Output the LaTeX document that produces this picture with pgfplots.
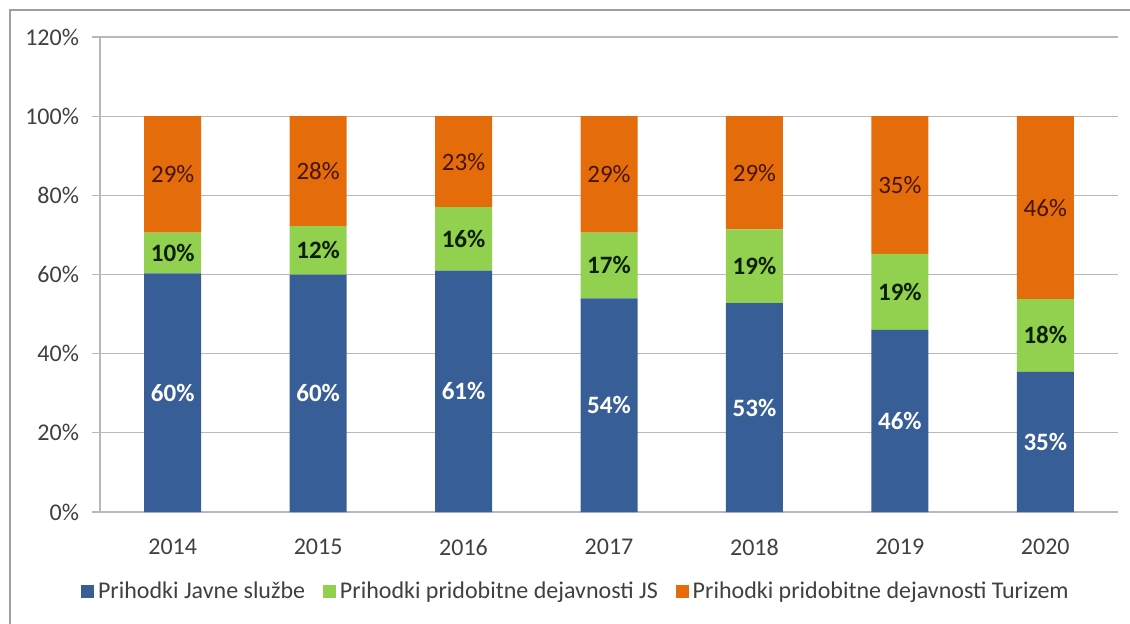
\documentclass[border=0pt]{standalone}
\usepackage{fontspec}
\setmainfont{Carlito}
\usepackage{pgfplots}
\pgfplotsset{compat=1.18}
\definecolor{cblue}{HTML}{375E97}
\definecolor{cgreen}{HTML}{92D050}
\definecolor{corange}{HTML}{E46C0A}
\definecolor{gridc}{HTML}{B8B8B8}
\definecolor{txt}{HTML}{404040}
\begin{document}
\begin{tikzpicture}
\useasboundingbox (-50pt,-55.5pt) rectangle (515pt,256pt);
\draw[gray!75, line width=1pt] (-45pt,-60pt) -- (-45pt,251pt) -- (520pt,251pt);
\begin{axis}[
  at={(0,0)}, anchor=south west,
  scale only axis, width=509pt, height=237.5pt,
  ybar stacked, bar width=28.5pt,
  xmin=-0.5, xmax=6.5, ymin=0, ymax=120,
  xtick={0,1,2,3,4,5,6},
  xticklabels={2014,2015,2016,2017,2018,2019,2020},
  x tick style={draw=none},
  extra x ticks={-0.5,0.5,1.5,2.5,3.5,4.5,5.5,6.5},
  extra x tick labels={},
  extra x tick style={major tick length=5pt, tick align=outside, grid=none, tick style={draw=gridc, line width=0.6pt}},
  ytick={0,20,40,60,80,100,120},
  yticklabel={\pgfmathprintnumber{\tick}\%},
  /pgf/number format/assume math mode=true,
  y tick style={draw=gridc, line width=0.6pt},
  major tick length=4pt, tick align=outside,
  ymajorgrids, grid style={draw=gridc, line width=0.6pt},
  axis x line*=bottom, axis y line*=left,
  axis line style={draw=gridc, line width=0.6pt, -},
  tick label style={font=\fontsize{12}{14}\selectfont, text=txt},
  xticklabel style={yshift=-6pt},
  yticklabel style={xshift=-3pt},
  legend style={at={(0.4686,-0.168)}, anchor=center, draw=none, fill=none,
    font=\fontsize{12}{14}\selectfont, text=txt,
    /tikz/every even column/.append style={column sep=7pt}},
  legend columns=-1,
  legend image code/.code={\fill[#1] (0pt,-3.2pt) rectangle (6.4pt,3.2pt);},
  nodes near coords={\pgfmathprintnumber[fixed,precision=0]{\pgfplotspointmeta}\%},
  point meta=rawy,
  nodes near coords align={center},
  every node near coord/.append style={anchor=center, font=\fontsize{12.5}{14}\selectfont\bfseries},
]
\addplot[fill=cblue, draw=none, every node near coord/.append style={text=white}] coordinates {
(0,60.3) (1,60.0) (2,61.0) (3,54.0) (4,52.8) (5,46.0) (6,35.4)};
\addplot[fill=cgreen, draw=none, every node near coord/.append style={text={rgb,255:red,12;green,32;blue,0}}] coordinates {
(0,10.3) (1,12.2) (2,16.0) (3,16.6) (4,18.6) (5,19.2) (6,18.4)};
\addplot[fill=corange, draw=none, every node near coord/.append style={text={rgb,255:red,70;green,20;blue,0}, font=\fontsize{12.5}{14}\selectfont}] coordinates {
(0,29.4) (1,27.8) (2,23.0) (3,29.4) (4,28.6) (5,34.8) (6,46.2)};
\legend{Prihodki Javne službe, Prihodki pridobitne dejavnosti JS, Prihodki pridobitne dejavnosti Turizem}
\end{axis}
\end{tikzpicture}
\end{document}
